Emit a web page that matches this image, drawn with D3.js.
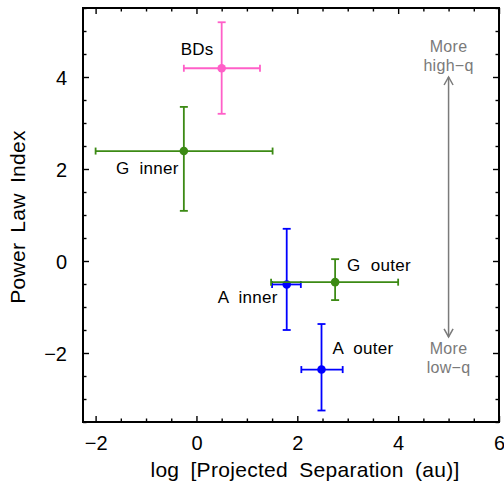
<!DOCTYPE html>
<html><head><meta charset="utf-8">
<script src="https://cdn.jsdelivr.net/npm/d3@7"></script>
<style>
html,body{margin:0;padding:0;background:#fff;}
text{font-family:"Liberation Sans",Arial,Helvetica,sans-serif;}
</style></head>
<body>
<script>
// ---- data ----
const names  = ["BDs", "G inner", "A inner", "G outer", "A outer"];
const xVals  = [0.50, -0.25, 1.79, 2.75, 2.48];
const xLo    = [-0.25, -2.00, 1.50, 1.48, 2.08];
const xHi    = [1.26, 1.51, 2.07, 4.00, 2.90];
const yVals  = [4.19, 2.39, -0.51, -0.46, -2.36];
const yLo    = [3.20, 1.09, -1.50, -0.85, -3.25];
const yHi    = [5.19, 3.35, 0.70, 0.04, -1.37];
const groups = ["BD", "G", "A", "G", "A"];
const xTickLabels = [-2, 0, 2, 4, 6];
const yTickLabels = [-2, 0, 2, 4];
const xTitle = "log [Projected Separation (au)]";
const yTitle = "Power Law Index";
const arrowX = 5, arrowTop = 4.0, arrowBottom = -1.65;
const arrowTopText = ["More", "high\u2212q"];
const arrowBottomText = ["More", "low\u2212q"];

// ---- styles / layout ----
const colors = {BD: "#ff5fc8", G: "#3c8a14", A: "#0000ff"};
const labelPos = { // pixel offsets from point, anchor
  "BDs": [-8, -13, "end"],
  "G inner": [-5, 23, "end"],
  "A inner": [-9, 19, "end"],
  "G outer": [12, -11, "start"],
  "A outer": [11, -16, "start"]
};
const W = 504, H = 489;
const L = 83, R = 499, T = 8, B = 422;

const svg = d3.select("body").append("svg").attr("width", W).attr("height", H);
const x = d3.scaleLinear().domain([-2.25, 6]).range([L, R]);
const y = d3.scaleLinear().domain([-3.5, 5.5]).range([B, T]);

const xMinor = d3.range(-2, 6.01, 0.5);
const yMinor = d3.range(-3.5, 5.51, 0.5);

// axes with inward ticks
function axisG(axis, tr) { return svg.append("g").attr("transform", tr).call(axis); }
const fmt = d => d < 0 ? "\u2212" + Math.abs(d) : d;
const bAx = axisG(d3.axisBottom(x).tickValues(xTickLabels).tickSize(-6).tickPadding(14).tickFormat(fmt), `translate(0,${B})`);
axisG(d3.axisBottom(x).tickValues(xMinor.filter(v => !xTickLabels.includes(v))).tickSize(-3.5).tickFormat(""), `translate(0,${B})`);
axisG(d3.axisTop(x).tickValues(xTickLabels).tickSize(-6).tickFormat(""), `translate(0,${T})`);
axisG(d3.axisTop(x).tickValues(xMinor.filter(v => !xTickLabels.includes(v))).tickSize(-3.5).tickFormat(""), `translate(0,${T})`);
const lAx = axisG(d3.axisLeft(y).tickValues(yTickLabels).tickSize(-6).tickPadding(16).tickFormat(fmt), `translate(${L},0)`);
axisG(d3.axisLeft(y).tickValues(yMinor.filter(v => !yTickLabels.includes(v))).tickSize(-3.5).tickFormat(""), `translate(${L},0)`);
axisG(d3.axisRight(y).tickValues(yTickLabels).tickSize(-6).tickFormat(""), `translate(${R},0)`);
axisG(d3.axisRight(y).tickValues(yMinor.filter(v => !yTickLabels.includes(v))).tickSize(-3.5).tickFormat(""), `translate(${R},0)`);
svg.selectAll(".domain").remove();
svg.selectAll(".tick line").attr("stroke", "#000").attr("stroke-width", 1.4);
svg.selectAll(".tick text").attr("font-size", 20).attr("fill", "#000")
  .attr("font-family", "'Liberation Sans', Arial, sans-serif");
bAx.selectAll(".tick text").attr("dy", "0.71em");
lAx.selectAll(".tick text").attr("dy", "0.36em");

// frame
svg.append("rect").attr("x", L).attr("y", T).attr("width", R - L).attr("height", B - T)
  .attr("fill", "none").attr("stroke", "#000").attr("stroke-width", 2);

// titles
svg.append("text").attr("x", 305).attr("y", 477).attr("text-anchor", "middle")
  .attr("font-size", 21).attr("letter-spacing", "0.3px").attr("word-spacing", "5px").text(xTitle);
svg.append("text").attr("transform", `translate(25,${(T + B) / 2 + 2}) rotate(-90)`)
  .attr("text-anchor", "middle").attr("font-size", 21).attr("letter-spacing", "0.3px").attr("word-spacing", "4px").text(yTitle);

// arrow
const gray = "#7a7a7a";
const ax = x(arrowX);
svg.append("line").attr("x1", ax).attr("x2", ax).attr("y1", y(arrowTop)).attr("y2", y(arrowBottom))
  .attr("stroke", gray).attr("stroke-width", 1.5);
svg.append("path").attr("d", `M${ax - 4.5},${y(arrowTop) + 8} L${ax},${y(arrowTop)} L${ax + 4.5},${y(arrowTop) + 8}`)
  .attr("fill", "none").attr("stroke", gray).attr("stroke-width", 1.5);
svg.append("path").attr("d", `M${ax - 4.5},${y(arrowBottom) - 8} L${ax},${y(arrowBottom)} L${ax + 4.5},${y(arrowBottom) - 8}`)
  .attr("fill", "none").attr("stroke", gray).attr("stroke-width", 1.5);
arrowTopText.forEach((t, i) => svg.append("text").attr("x", ax).attr("y", 52 + i * 19)
  .attr("text-anchor", "middle").attr("font-size", 16).attr("letter-spacing", "0.3px").attr("fill", gray).text(t));
arrowBottomText.forEach((t, i) => svg.append("text").attr("x", ax).attr("y", 354 + i * 19)
  .attr("text-anchor", "middle").attr("font-size", 16).attr("letter-spacing", "0.3px").attr("fill", gray).text(t));

// error bars and points
const data = names.map((n, i) => ({n, x: xVals[i], y: yVals[i], xl: xLo[i], xh: xHi[i], yl: yLo[i], yh: yHi[i], c: colors[groups[i]]}));
const g = svg.append("g");
data.forEach(d => {
  const s = g.append("g").attr("stroke", d.c).attr("stroke-width", 1.8).attr("fill", "none");
  s.append("line").attr("x1", x(d.xl)).attr("x2", x(d.xh)).attr("y1", y(d.y)).attr("y2", y(d.y));
  s.append("line").attr("x1", x(d.x)).attr("x2", x(d.x)).attr("y1", y(d.yl)).attr("y2", y(d.yh));
  [d.xl, d.xh].forEach(v => s.append("line").attr("x1", x(v)).attr("x2", x(v)).attr("y1", y(d.y) - 3.5).attr("y2", y(d.y) + 3.5));
  [d.yl, d.yh].forEach(v => s.append("line").attr("x1", x(d.x) - 4).attr("x2", x(d.x) + 4).attr("y1", y(v)).attr("y2", y(v)));
  g.append("circle").attr("cx", x(d.x)).attr("cy", y(d.y)).attr("r", 4.3).attr("fill", d.c);
  const lp = labelPos[d.n];
  g.append("text").attr("x", x(d.x) + lp[0]).attr("y", y(d.y) + lp[1]).attr("text-anchor", lp[2])
    .attr("font-size", 17).attr("letter-spacing", "0.3px").attr("word-spacing", "5px").attr("fill", "#000").text(d.n);
});
</script>
</body></html>
